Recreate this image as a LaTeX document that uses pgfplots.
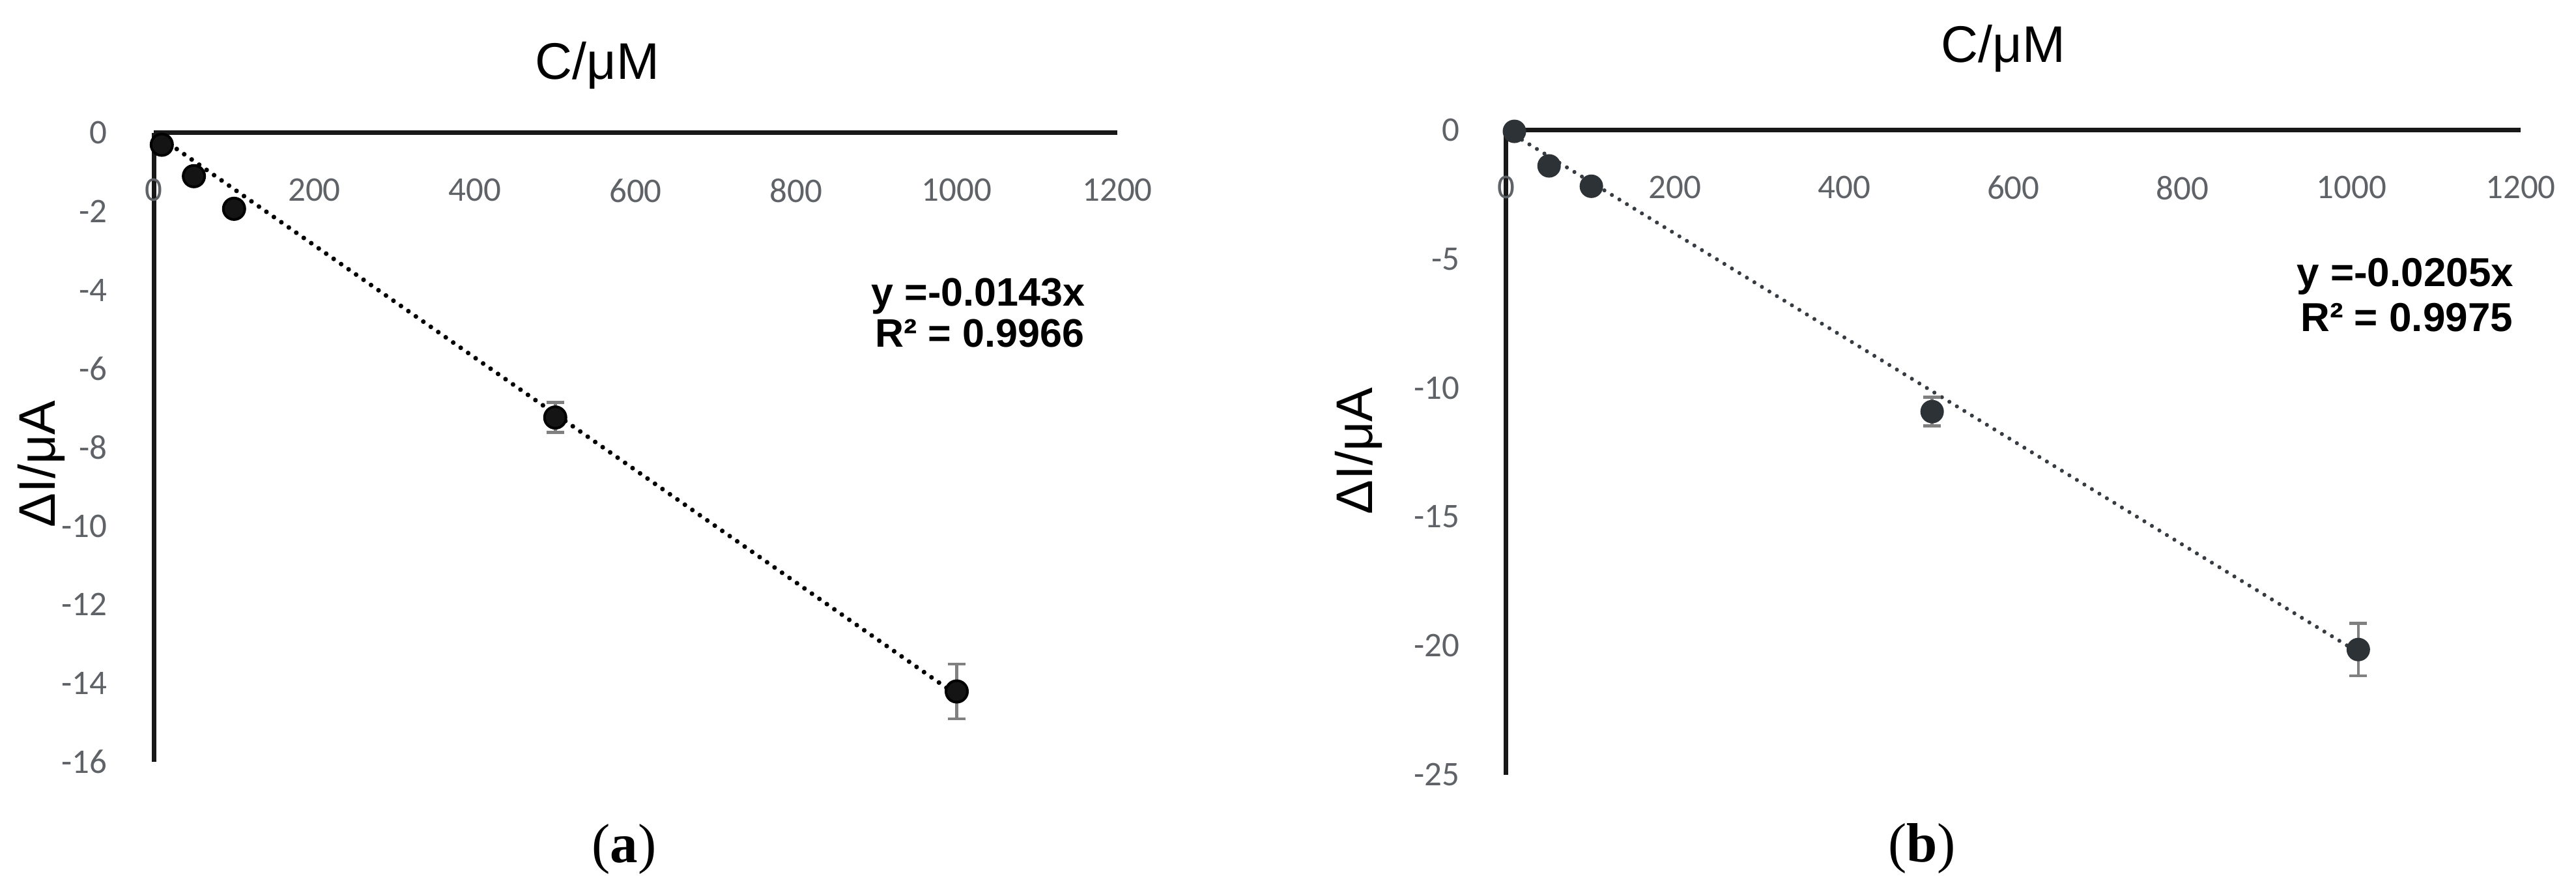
\documentclass[border=0pt]{standalone}
\usepackage{pgfplots}
\pgfplotsset{compat=1.18}
\usepackage{fontspec}
\setmainfont{Liberation Sans}
\newfontfamily\carlito{Carlito}
\newfontfamily\lserif{Liberation Serif}
\definecolor{tickgray}{RGB}{95,99,104}
\definecolor{axblack}{RGB}{24,24,24}
\definecolor{errgray}{RGB}{128,128,128}
\definecolor{darkpt}{RGB}{45,50,54}
\definecolor{darkline}{RGB}{55,60,66}

\pgfplotstableread{
x y e
10 -0.30 0.05
50 -1.10 0.10
100 -1.93 0.05
500 -7.24 0.38
1000 -14.21 0.70
}\dataA
\pgfplotstableread{
x y e
10 -0.05 0.05
51 -1.39 0.10
101 -2.18 0.10
504 -10.92 0.56
1008 -20.15 1.02
}\dataB

\pgfplotsset{
 mystyle/.style={
  scale only axis,
  axis lines=middle,
  axis line style={-, line width=0.7pt, color=axblack},
  hide obscured x ticks=false,
  hide obscured y ticks=false,
  enlargelimits=false,
  clip=false,
  xmin=0, xmax=1200,
  xtick={0,200,...,1200},
  major tick length=0pt,
  tick style={draw=none},
  scaled x ticks=false, scaled y ticks=false,
  /pgf/number format/1000 sep={},
  /pgf/number format/assume math mode=true,
  tick label style={font=\carlito\fontsize{5.3pt}{6pt}\selectfont, text=tickgray},
  xticklabel style={anchor=north, yshift=-3.5pt},
  yticklabel style={anchor=east, xshift=-3.6pt},
 },
 errstyle/.style={
  error bars/.cd, y dir=both, y explicit,
  error bar style={color=errgray, line width=0.45pt},
  error mark options={rotate=90, mark size=1.35pt, color=errgray, line width=0.45pt},
 },
}

\begin{document}
\begin{tikzpicture}
\useasboundingbox (0pt,0pt) rectangle (395.4pt,-135.8pt);

% ---------------- panel (a)
\begin{axis}[mystyle,
  at={(23.6pt,-20.4pt)}, anchor=north west,
  width=147.9pt, height=96.5pt,
  ymin=-16, ymax=0, ytick={-16,-14,...,0}]
\addplot[black, line width=0.72pt, line cap=round, dash pattern=on 0pt off 1.4pt] coordinates {(10,-0.143) (1000,-14.3)};
\addplot[only marks, mark=*, mark size=1.65pt, color=black, mark options={fill=black!92}, errstyle]
  table[x=x, y=y, y error=e] {\dataA};
\end{axis}

\node[font=\fontsize{7.9pt}{9pt}\selectfont, anchor=base] at (91.7pt,-12.2pt) {C/μM};
\node[font=\fontsize{7.9pt}{9pt}\selectfont, rotate=90, anchor=base] at (8.5pt,-71.2pt) {ΔI/μA};
\node[font=\bfseries\fontsize{6.1pt}{7pt}\selectfont, anchor=base east, inner sep=0pt] at (166.7pt,-47.0pt) {y =-0.0143x};
\node[font=\bfseries\fontsize{6.1pt}{7pt}\selectfont, anchor=base east, inner sep=0pt] at (166.6pt,-53.3pt) {R² = 0.9966};
\node[font=\lserif\fontsize{8.5pt}{10pt}\selectfont] at (95.8pt,-130.3pt) {(\textbf{a})};

% ---------------- panel (b)
\begin{axis}[mystyle,
  at={(231.15pt,-19.96pt)}, anchor=north west,
  width=155.75pt, height=98.9pt,
  axis line style={-, line width=0.75pt, color=axblack},
  ymin=-25, ymax=0, ytick={-25,-20,...,0}]
\addplot[darkline, line width=0.62pt, line cap=round, dash pattern=on 0pt off 1.35pt] coordinates {(10,-0.2) (1008,-20.26)};
\addplot[only marks, mark=*, mark size=1.6pt, color=darkpt, mark options={fill=darkpt}, errstyle]
  table[x=x, y=y, y error=e] {\dataB};
\end{axis}

\node[font=\fontsize{7.9pt}{9pt}\selectfont, anchor=base] at (307.5pt,-9.6pt) {C/μM};
\node[font=\fontsize{7.9pt}{9pt}\selectfont, rotate=90, anchor=base] at (210.6pt,-69.2pt) {ΔI/μA};
\node[font=\bfseries\fontsize{6.2pt}{7pt}\selectfont, anchor=base east, inner sep=0pt] at (386.0pt,-44.0pt) {y =-0.0205x};
\node[font=\bfseries\fontsize{6.2pt}{7pt}\selectfont, anchor=base east, inner sep=0pt] at (385.9pt,-50.9pt) {R² = 0.9975};
\node[font=\lserif\fontsize{8.5pt}{10pt}\selectfont] at (295.0pt,-130.2pt) {(\textbf{b})};
\end{tikzpicture}
\end{document}
